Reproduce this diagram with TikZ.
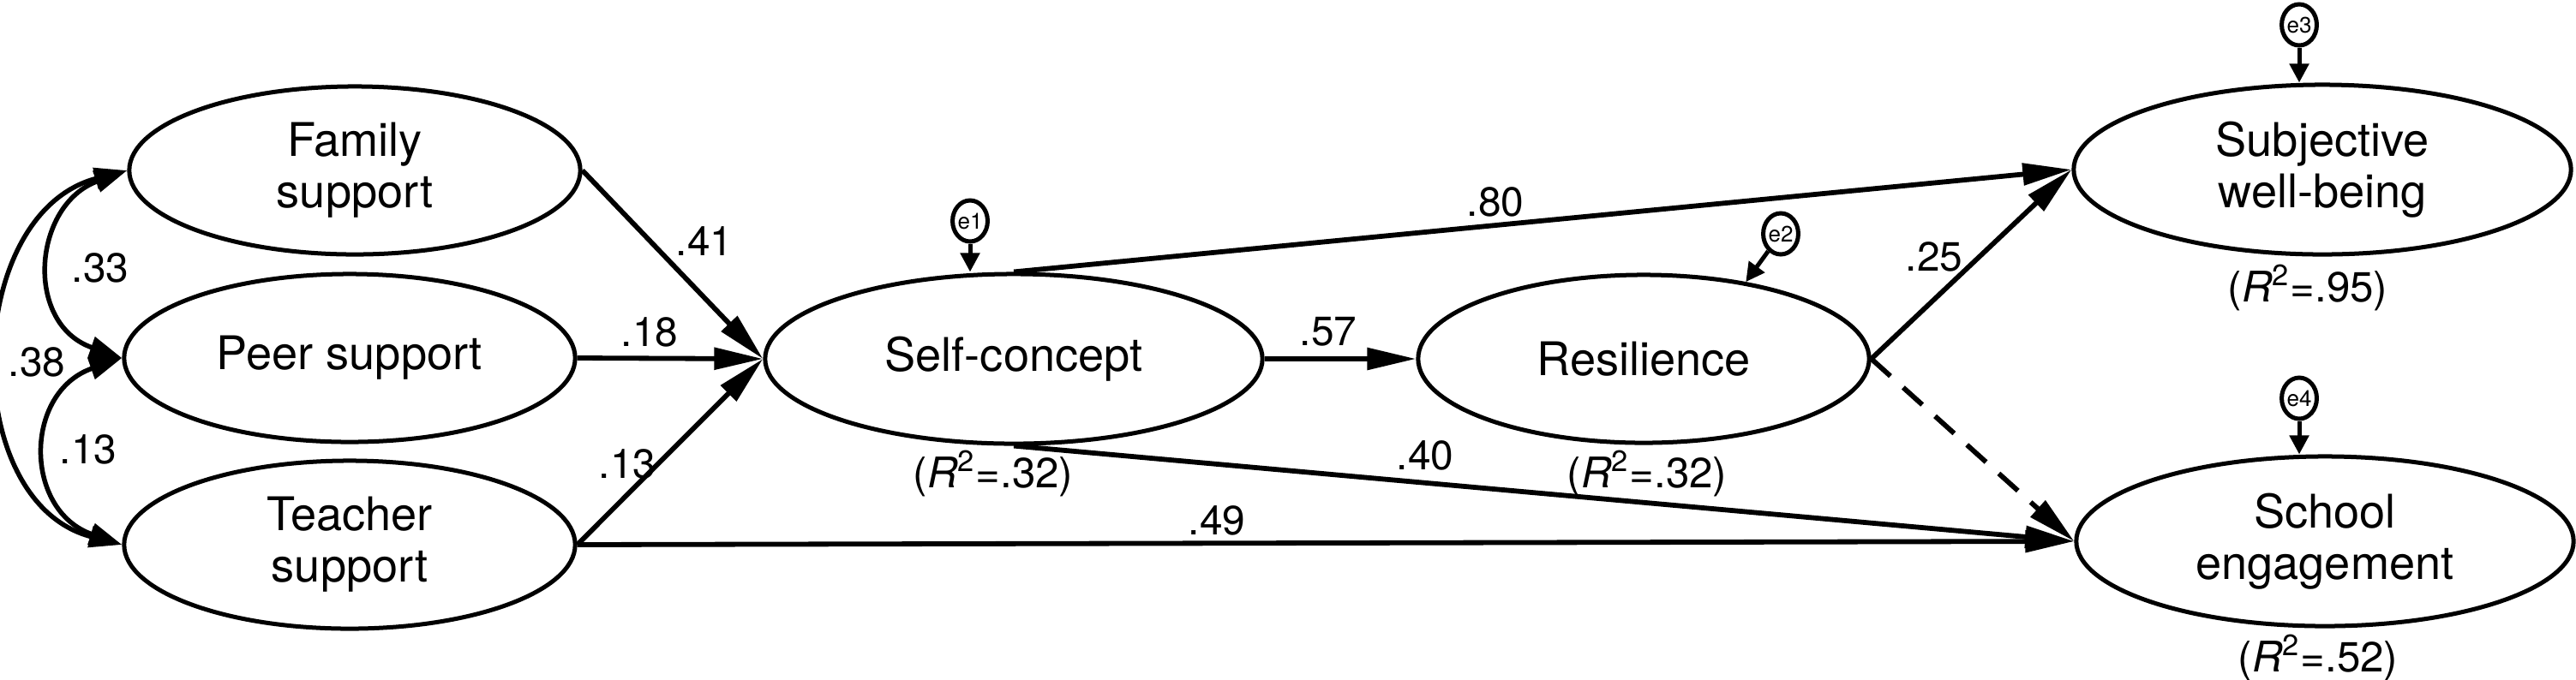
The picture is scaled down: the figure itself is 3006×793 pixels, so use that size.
\documentclass[tikz,border=0pt]{standalone}
\usepackage{fontspec}
\setmainfont{TeX Gyre Heros}
\usetikzlibrary{arrows.meta,shapes.geometric}
\begin{document}
\begin{tikzpicture}[x=0.01cm,y=-0.01cm,
  latent/.style={ellipse, draw, line width=0.05cm, inner sep=0pt, minimum width=5.26cm, minimum height=1.96cm, align=center, font=\fontsize{15.4pt}{17pt}\selectfont},
  biglatent/.style={latent, minimum width=5.8cm, minimum height=1.98cm},
  err/.style={ellipse, draw, line width=0.05cm, minimum width=0.35cm, minimum height=0.48cm, inner sep=0pt, font=\fontsize{7.4pt}{8pt}\selectfont},
  pathar/.style={-{Triangle[length=0.57cm,width=0.25cm]}, line width=0.058cm},
  covar/.style={{Triangle[length=0.38cm,width=0.25cm]}-{Triangle[length=0.38cm,width=0.25cm]}, line width=0.055cm},
  errar/.style={-{Triangle[length=0.22cm,width=0.22cm]}, line width=0.05cm},
  coef/.style={font=\fontsize{13.6pt}{15pt}\selectfont, inner sep=0pt},
  rsq/.style={font=\fontsize{14pt}{16pt}\selectfont, inner sep=0pt}]
\useasboundingbox (0,0) rectangle (3006,793);

% latent variables
\node[latent] (fam) at (414,199) {Family\\support};
\node[latent] (peer) at (408,418) {Peer support};
\node[latent] (teach) at (408,636) {Teacher\\support};
\node[biglatent] (sc) at (1183,419) {Self-concept};
\node[latent] (res) at (1918,419) {Resilience};
\node[biglatent] (swb) at (2710,198) {Subjective\\well-being};
\node[biglatent] (school) at (2713,632) {School\\engagement};

% error terms
\node[err] (e1) at (1132,258) {e1};
\node[err] (e2) at (2078,273) {e2};
\node[err] (e3) at (2683,29) {e3};
\node[err] (e4) at (2683,465) {e4};
\draw[errar] (e1) -- (e1 |- sc.north);
\draw[errar] (e2) -- (res.37);
\draw[errar] (e3) -- (e3 |- swb.north);
\draw[errar] (e4) -- (e4 |- school.north);

% paths
\draw[pathar] (fam.east) -- (sc.west);
\draw[pathar] (peer.east) -- (sc.west);
\draw[pathar] (teach.east) -- (sc.west);
\draw[pathar] (teach.east) -- (school.west);
\draw[pathar] (sc.north) -- (swb.west);
\draw[pathar] (sc.south) -- (school.west);
\draw[pathar] (sc.east) -- (res.west);
\draw[pathar] (res.east) -- (swb.west);
\draw[pathar, dash pattern=on 0.3cm off 0.2cm] (res.east) -- (school.west);

% covariances
\draw[covar] (fam.west) .. controls +(-110,40) and +(-115,-40) .. (peer.west);
\draw[covar] (peer.west) .. controls +(-115,40) and +(-115,-40) .. (teach.west);
\draw[covar] (fam.west) .. controls +(-192,50) and +(-192,-50) .. (teach.west);

% coefficients
\node[coef] (l41) at (822,282) {.41};
\node[coef] (l18) at (758,388) {.18};
\node[coef] (l13a) at (732,542) {.13};
\node[coef] (l33) at (117,313) {.33};
\node[coef] (l38) at (43,423) {.38};
\node[coef] (l13b) at (103,525) {.13};
\node[coef] (l80) at (1745,236) {.80};
\node[coef] (l57) at (1550,387) {.57};
\node[coef] (l25) at (2257,300) {.25};
\node[coef] (l40) at (1663,532) {.40};
\node[coef] (l49) at (1420,608) {.49};

% R squared
\node[rsq] (r1) at (1159,553) {(\textit{R}\textsuperscript{2}=.32)};
\node[rsq] (r2) at (1922,553) {(\textit{R}\textsuperscript{2}=.32)};
\node[rsq] (r3) at (2693,336) {(\textit{R}\textsuperscript{2}=.95)};
\node[rsq] (r4) at (2705,768) {(\textit{R}\textsuperscript{2}=.52)};
\end{tikzpicture}
\end{document}
